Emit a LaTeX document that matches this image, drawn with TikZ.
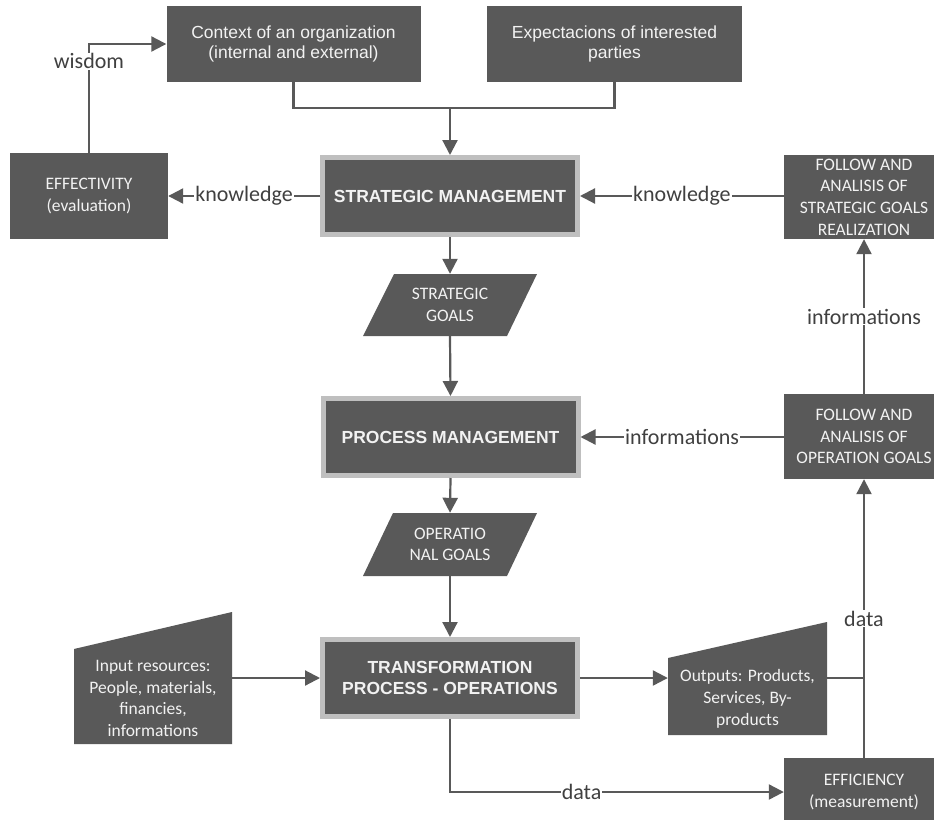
\documentclass[tikz,border=0pt]{standalone}
\usepackage{fontspec}
\setmainfont{Carlito}
\newfontfamily\arialf{Liberation Sans}
\usetikzlibrary{arrows.meta}
\definecolor{boxfill}{HTML}{595959}
\definecolor{boxline}{HTML}{BFBFBF}
\definecolor{conn}{HTML}{595959}
\definecolor{lbltxt}{HTML}{404040}
\definecolor{boxtxt}{HTML}{F2F2F2}
\begin{document}
\begin{tikzpicture}[x=1pt,y=-1pt,
 darkbox/.style={fill=boxfill, draw=none, text=boxtxt, align=center, inner sep=0pt},
 mainbox/.style={fill=boxfill, draw=boxline, line width=5pt, text=boxtxt, align=center,
   font=\arialf\bfseries\fontsize{17.5}{21}\selectfont, minimum width=255pt, minimum height=77pt, inner sep=0pt},
 ariatxt/.style={font=\arialf\fontsize{17.5}{20.5}\selectfont},
 calitxt/.style={font=\fontsize{17.5}{21.7}\selectfont},
 shapetxt/.style={text=boxtxt, align=center, inner sep=0pt, font=\fontsize{17.5}{21.7}\selectfont},
 lbl/.style={fill=white, text=lbltxt, font=\fontsize{22}{24}\selectfont, inner sep=1pt},
 arr/.style={draw=conn, line width=2.2pt, -{Triangle[length=15pt,width=15pt]}},
 ln/.style={draw=conn, line width=2.2pt},
]
\useasboundingbox (0,0) rectangle (934,819);
\fill[white] (0,0) rectangle (934,819);

% top boxes
\node[darkbox, ariatxt, minimum width=254pt, minimum height=76pt] (ctx) at (293.5,44)
  {Context of an organization\\(internal and external)};
\node[darkbox, ariatxt, minimum width=255pt, minimum height=76pt] (exp) at (614.5,44)
  {Expectacions of interested\\parties};

% main boxes
\node[mainbox] (sm) at (450,196) {STRATEGIC MANAGEMENT};
\node[mainbox] (pm) at (450.5,437) {PROCESS MANAGEMENT};
\node[mainbox] (tr) at (450,678) {TRANSFORMATION\\PROCESS - OPERATIONS};

% side boxes
\node[darkbox, calitxt, minimum width=158pt, minimum height=86pt] (eva) at (89,196)
  {EFFECTIVITY\\(evaluation)};
\node[darkbox, calitxt, minimum width=160pt, minimum height=84pt] (fss) at (864,197)
  {FOLLOW AND\\ANALISIS OF\\STRATEGIC GOALS\\REALIZATION};
\node[darkbox, calitxt, minimum width=160pt, minimum height=85pt] (fop) at (864,436.5)
  {FOLLOW AND\\ANALISIS OF\\OPERATION GOALS};
\node[darkbox, calitxt, minimum width=160pt, minimum height=68pt] (eff) at (864,792)
  {EFFICIENCY\\(measurement)};

% parallelograms
\fill[boxfill] (394,274) -- (537,274) -- (507,336) -- (363,336) -- cycle;
\node[shapetxt, minimum width=143pt, minimum height=62pt] (sg) at (450,305) {STRATEGIC\\GOALS};
\fill[boxfill] (393,513) -- (537,513) -- (507,576) -- (363,576) -- cycle;
\node[shapetxt, minimum width=144pt, minimum height=63pt] (og) at (450,544.5) {OPERATIO\\NAL GOALS};

% manual inputs
\fill[boxfill] (74,649) -- (232,612) -- (232,744) -- (74,744) -- cycle;
\node[shapetxt, minimum width=158pt] (inp) at (153,698.5)
  {Input resources:\\People, materials,\\financies,\\informations};
\fill[boxfill] (668,658) -- (827,622) -- (827,735) -- (668,735) -- cycle;
\node[shapetxt, minimum width=159pt] (outp) at (747.5,699)
  {Outputs: Products,\\Services, By-\\products};

% connectors
\coordinate (j) at (450,108);
\draw[ln] (ctx.south) |- (j) -| (exp.south);
\draw[arr] (j) -- (sm.north);
\draw[arr] (sm.west) -- node[lbl]{knowledge} (eva.east);
\draw[arr] (eva.north) |- node[lbl,pos=0.42]{wisdom} (ctx.west);
\draw[arr] (fss.west |- sm.east) -- node[lbl]{knowledge} (sm.east);
\draw[arr] (sm.south) -- (sg.north);
\draw[arr] (sg.south) -- (pm.north);
\draw[arr] (fop.west |- pm.east) -- node[lbl]{informations} (pm.east);
\draw[arr] (fop.north) -- node[lbl]{informations} (fss.south);
\draw[arr] (pm.south) -- (og.north);
\draw[arr] (og.south) -- (tr.north);
\draw[arr] (inp.east |- tr.west) -- (tr.west);
\draw[arr] (tr.east) -- (outp.west |- tr.east);
\coordinate (k) at (eff.north |- tr.east);
\draw[ln] (outp.east |- tr.east) -- (k);
\draw[arr] (eff.north) -- node[lbl]{data} (fop.south);
\draw[arr] (tr.south) |- node[lbl,pos=0.697]{data} (eff.west);
\end{tikzpicture}
\end{document}
